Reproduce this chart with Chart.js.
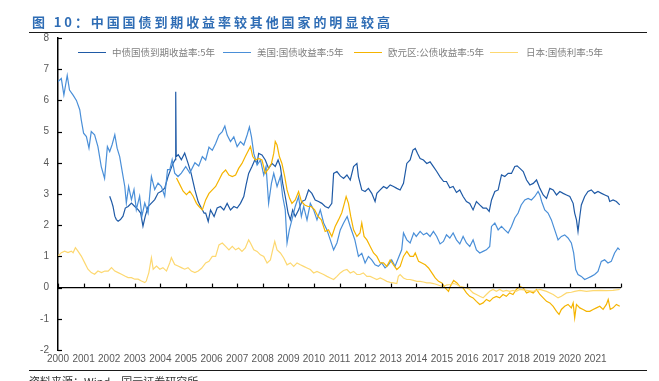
<!DOCTYPE html>
<html>
<head>
<meta charset="utf-8">
<script src="https://cdn.jsdelivr.net/npm/chart.js@4/dist/chart.umd.min.js"></script>
<style>
  html, body { margin: 0; padding: 0; background: #fff; }
  body { width: 659px; height: 381px; position: relative; overflow: hidden; }
  #c { position: absolute; left: 0; top: 0; }
  .title { position: absolute; left: 32px; top: 12px; font: bold 13px "Noto Sans CJK SC", sans-serif; color: #2f6db5; letter-spacing: 2.9px; white-space: nowrap; }
  .rule { position: absolute; left: 29px; width: 618px; height: 0; border-top: 1.6px solid #1a1a1a; }
  .src { position: absolute; left: 29px; top: 373px; font: 11px "Noto Sans CJK SC", sans-serif; color: #333; white-space: nowrap; }
  .lg-line { position: absolute; top: 52px; width: 28px; height: 0; border-top: 1.6px solid; }
  .lg-text { position: absolute; top: 45px; font: 9.5px "Noto Sans CJK SC", sans-serif; color: #808080; white-space: nowrap; }
</style>
</head>
<body>
<canvas id="c" width="659" height="381"></canvas>
<div class="title">图 10：中国国债到期收益率较其他国家的明显较高</div>
<div class="rule" style="top:32px"></div>
<div class="rule" style="top:370px"></div>
<div class="src">资料来源：Wind，国元证券研究所</div>
<div id="legend"></div>
<script>
// ---- data (x = year as decimal, y = yield %) ----
const seriesNames = ['中债国债到期收益率:5年', '美国:国债收益率:5年', '欧元区:公债收益率:5年', '日本:国债利率:5年'];
const seriesColors = ['#1f5aa6', '#4a8fd8', '#f5b400', '#fdd870'];
const yearTicks = [2000,2001,2002,2003,2004,2005,2006,2007,2008,2009,2010,2011,2012,2013,2014,2015,2016,2017,2018,2019,2020,2021];

const chinaX = [2002.02,2002.09,2002.15,2002.22,2002.28,2002.35,2002.44,2002.54,2002.63,2002.74,2002.87,2003.0,2003.13,2003.23,2003.32,2003.41,2003.52,2003.65,2003.78,2003.91,2004.04,2004.17,2004.3,2004.4,2004.5,2004.58,2004.6,2004.62,2004.7,2004.82,2004.95,2005.08,2005.2,2005.35,2005.48,2005.6,2005.71,2005.77,2005.87,2005.96,2006.1,2006.22,2006.35,2006.48,2006.61,2006.74,2006.87,2007.0,2007.13,2007.26,2007.35,2007.45,2007.58,2007.69,2007.78,2007.84,2007.97,2008.1,2008.23,2008.36,2008.49,2008.6,2008.69,2008.78,2008.88,2008.99,2009.08,2009.17,2009.27,2009.4,2009.53,2009.66,2009.79,2009.92,2010.05,2010.18,2010.31,2010.44,2010.57,2010.7,2010.77,2010.9,2011.03,2011.16,2011.29,2011.42,2011.55,2011.68,2011.74,2011.87,2012.0,2012.13,2012.26,2012.39,2012.46,2012.59,2012.72,2012.85,2012.98,2013.11,2013.24,2013.37,2013.5,2013.63,2013.76,2013.87,2013.96,2014.05,2014.15,2014.28,2014.41,2014.54,2014.67,2014.8,2014.93,2015.07,2015.18,2015.31,2015.44,2015.57,2015.7,2015.83,2015.96,2016.09,2016.22,2016.35,2016.48,2016.61,2016.74,2016.85,2016.94,2017.07,2017.2,2017.33,2017.46,2017.59,2017.72,2017.85,2017.94,2018.05,2018.18,2018.31,2018.44,2018.57,2018.7,2018.83,2018.96,2019.09,2019.22,2019.35,2019.48,2019.61,2019.74,2019.87,2020.0,2020.13,2020.19,2020.26,2020.32,2020.39,2020.45,2020.58,2020.71,2020.84,2020.97,2021.1,2021.24,2021.37,2021.5,2021.56,2021.69,2021.82,2021.95];
const chinaY = [2.93,2.77,2.6,2.29,2.18,2.13,2.18,2.29,2.55,2.6,2.71,2.6,2.5,2.39,1.97,2.29,2.6,2.71,2.82,3.03,3.09,3.19,3.56,3.78,3.99,4.1,6.28,4.2,4.26,4.1,4.31,3.99,3.67,3.13,2.75,2.55,2.39,2.39,2.12,2.49,2.28,2.55,2.6,2.49,2.7,2.49,2.6,2.55,2.7,2.92,3.29,3.66,3.88,4.09,3.98,4.3,4.25,4.09,3.82,3.98,3.88,4.09,3.88,3.34,2.92,2.39,2.17,2.49,2.28,2.49,2.76,2.81,3.13,3.02,2.81,2.76,2.7,2.6,2.55,2.7,3.66,3.72,3.58,3.5,3.61,3.45,3.88,3.98,3.56,3.13,3.08,3.18,3.02,2.76,3.02,3.13,3.24,3.18,3.29,3.24,3.18,3.13,3.34,3.98,4.09,4.41,4.46,4.3,4.14,4.09,3.98,4.03,3.88,3.72,3.55,3.4,3.4,3.2,3.24,3.05,3.13,2.92,2.76,2.7,2.49,2.76,2.65,2.55,2.55,2.44,2.81,3.08,3.13,3.61,3.56,3.66,3.66,3.88,3.9,3.82,3.72,3.45,3.29,3.34,3.45,3.18,2.97,2.86,3.18,3.13,2.97,3.08,3.02,2.97,2.92,2.7,2.39,2.17,1.8,2.28,2.65,2.92,3.08,3.13,3.02,3.08,3.02,2.97,2.92,2.76,2.81,2.76,2.65];

const usX = [2000.0,2000.13,2000.23,2000.36,2000.45,2000.59,2000.72,2000.85,2000.91,2001.0,2001.11,2001.21,2001.3,2001.43,2001.56,2001.69,2001.82,2001.93,2002.02,2002.11,2002.22,2002.31,2002.41,2002.52,2002.61,2002.67,2002.76,2002.87,2002.97,2003.06,2003.19,2003.28,2003.39,2003.52,2003.65,2003.78,2003.91,2004.04,2004.17,2004.28,2004.37,2004.46,2004.56,2004.69,2004.82,2004.99,2005.15,2005.35,2005.5,2005.64,2005.77,2005.9,2006.03,2006.16,2006.29,2006.42,2006.52,2006.61,2006.74,2006.87,2007.0,2007.13,2007.26,2007.39,2007.48,2007.56,2007.65,2007.78,2007.91,2008.04,2008.13,2008.23,2008.34,2008.43,2008.56,2008.69,2008.78,2008.88,2008.95,2009.04,2009.14,2009.27,2009.4,2009.51,2009.6,2009.73,2009.86,2009.99,2010.12,2010.25,2010.38,2010.51,2010.64,2010.77,2010.9,2011.03,2011.16,2011.3,2011.42,2011.6,2011.74,2011.87,2012.0,2012.13,2012.26,2012.39,2012.52,2012.65,2012.78,2012.91,2013.04,2013.17,2013.3,2013.43,2013.5,2013.63,2013.76,2013.9,2014.0,2014.15,2014.28,2014.41,2014.54,2014.67,2014.8,2014.93,2015.06,2015.18,2015.31,2015.44,2015.57,2015.7,2015.83,2015.96,2016.09,2016.22,2016.35,2016.48,2016.61,2016.74,2016.87,2016.94,2017.07,2017.2,2017.33,2017.46,2017.59,2017.72,2017.85,2017.98,2018.1,2018.24,2018.37,2018.5,2018.63,2018.76,2018.83,2018.9,2019.02,2019.15,2019.28,2019.41,2019.54,2019.67,2019.8,2019.93,2020.06,2020.15,2020.23,2020.32,2020.45,2020.58,2020.71,2020.84,2020.97,2021.1,2021.23,2021.36,2021.49,2021.62,2021.75,2021.88,2021.95];
const usY = [6.6,6.7,6.17,6.8,6.33,6.17,6.0,5.7,5.37,4.95,4.84,4.47,5.0,4.9,4.52,3.88,3.5,4.52,4.36,4.57,4.9,4.47,4.2,3.67,3.24,2.71,3.24,2.82,3.14,2.5,2.93,2.29,2.71,2.39,3.56,3.14,3.35,3.24,2.93,3.78,3.78,4.1,3.67,3.56,3.67,3.88,3.67,4.0,3.9,4.2,4.09,4.5,4.4,4.62,4.89,5.0,5.18,4.89,4.68,4.83,4.52,4.68,4.57,4.89,5.15,4.83,4.3,3.93,4.09,3.61,3.88,2.7,3.34,3.66,3.24,3.56,2.92,2.49,1.43,1.85,2.17,2.6,2.92,2.28,2.6,2.17,2.7,2.49,2.17,2.49,2.07,1.85,1.53,1.21,1.43,1.85,2.07,2.28,1.96,1.53,1.0,1.1,0.79,1.0,0.89,0.73,0.68,0.79,0.63,0.73,0.89,0.68,0.95,1.21,1.75,1.53,1.43,1.75,1.64,1.8,1.69,1.75,1.64,1.8,1.64,1.4,1.48,1.69,1.59,1.75,1.53,1.4,1.64,1.43,1.32,1.53,1.21,1.11,1.16,1.21,1.32,1.96,2.07,1.85,1.96,1.85,1.75,1.96,2.23,2.39,2.65,2.81,2.86,2.81,2.92,3.08,2.97,2.76,2.49,2.39,2.17,1.85,1.53,1.64,1.69,1.59,1.43,1.11,0.58,0.42,0.36,0.26,0.31,0.36,0.42,0.52,0.84,0.89,0.79,0.84,1.11,1.27,1.21];

const euroX = [2004.63,2004.76,2004.89,2005.02,2005.15,2005.28,2005.41,2005.51,2005.64,2005.77,2005.9,2006.03,2006.16,2006.29,2006.42,2006.55,2006.68,2006.81,2006.94,2007.06,2007.19,2007.32,2007.45,2007.52,2007.61,2007.71,2007.84,2007.97,2008.1,2008.23,2008.34,2008.43,2008.49,2008.56,2008.65,2008.75,2008.86,2008.95,2009.05,2009.14,2009.27,2009.4,2009.51,2009.64,2009.77,2009.9,2010.03,2010.16,2010.29,2010.44,2010.57,2010.7,2010.83,2010.96,2011.09,2011.19,2011.26,2011.35,2011.44,2011.55,2011.68,2011.8,2011.87,2011.96,2012.07,2012.2,2012.33,2012.46,2012.59,2012.72,2012.85,2012.98,2013.11,2013.24,2013.37,2013.5,2013.63,2013.76,2013.89,2013.96,2014.09,2014.22,2014.35,2014.48,2014.61,2014.74,2014.87,2015.0,2015.13,2015.26,2015.33,2015.46,2015.59,2015.7,2015.83,2015.96,2016.09,2016.22,2016.35,2016.48,2016.61,2016.74,2016.87,2017.0,2017.13,2017.26,2017.39,2017.52,2017.65,2017.78,2017.91,2018.05,2018.18,2018.31,2018.44,2018.57,2018.7,2018.83,2018.96,2019.09,2019.22,2019.35,2019.48,2019.58,2019.67,2019.8,2019.93,2020.06,2020.13,2020.19,2020.26,2020.39,2020.52,2020.65,2020.78,2020.91,2021.04,2021.17,2021.3,2021.43,2021.5,2021.58,2021.69,2021.82,2021.95];
const euroY = [3.51,3.3,3.09,2.98,3.09,2.93,2.7,2.6,2.49,2.81,3.02,3.13,3.24,3.45,3.66,3.77,3.61,3.56,3.61,3.82,3.98,4.2,4.41,4.52,4.2,4.09,4.14,4.09,3.66,3.82,3.98,4.3,4.68,4.57,4.2,3.98,3.56,3.13,2.86,2.7,2.81,3.08,2.76,2.65,2.6,2.6,2.49,2.28,2.17,1.8,1.85,1.64,1.96,2.17,2.4,2.7,2.92,2.7,2.28,1.85,1.64,1.75,2.07,1.64,1.53,1.32,1.11,1.0,0.79,0.79,0.68,0.89,0.73,0.58,0.68,1.0,1.16,1.0,1.0,1.11,0.84,0.79,0.73,0.63,0.47,0.31,0.2,0.15,-0.01,-0.12,0.04,0.23,0.15,0.04,-0.01,-0.17,-0.28,-0.33,-0.44,-0.54,-0.49,-0.38,-0.44,-0.33,-0.28,-0.33,-0.22,-0.28,-0.17,-0.22,-0.06,0.04,-0.01,-0.17,-0.12,-0.17,-0.06,-0.22,-0.33,-0.44,-0.49,-0.6,-0.76,-0.86,-0.7,-0.6,-0.54,-0.65,-0.49,-0.97,-0.54,-0.65,-0.7,-0.76,-0.76,-0.7,-0.65,-0.6,-0.7,-0.54,-0.38,-0.7,-0.65,-0.54,-0.6];

const japanX = [2000.0,2000.13,2000.26,2000.39,2000.52,2000.59,2000.68,2000.78,2000.91,2001.04,2001.17,2001.3,2001.43,2001.56,2001.7,2001.83,2001.96,2002.09,2002.22,2002.35,2002.48,2002.61,2002.74,2002.87,2003.0,2003.13,2003.26,2003.39,2003.45,2003.55,2003.65,2003.72,2003.85,2003.98,2004.1,2004.24,2004.37,2004.43,2004.56,2004.69,2004.82,2004.95,2005.08,2005.21,2005.35,2005.48,2005.61,2005.77,2005.9,2006.03,2006.16,2006.29,2006.42,2006.55,2006.68,2006.81,2006.94,2007.06,2007.19,2007.32,2007.45,2007.52,2007.65,2007.78,2007.91,2008.04,2008.17,2008.3,2008.39,2008.47,2008.56,2008.69,2008.82,2008.95,2009.08,2009.21,2009.34,2009.47,2009.6,2009.73,2009.86,2009.99,2010.12,2010.25,2010.38,2010.51,2010.64,2010.77,2010.9,2011.03,2011.16,2011.29,2011.42,2011.55,2011.68,2011.8,2011.93,2012.07,2012.2,2012.33,2012.46,2012.59,2012.72,2012.85,2012.98,2013.11,2013.24,2013.3,2013.37,2013.5,2013.63,2013.76,2013.89,2014.02,2014.15,2014.28,2014.41,2014.54,2014.67,2014.8,2014.93,2015.07,2015.2,2015.33,2015.46,2015.59,2015.7,2015.96,2016.09,2016.22,2016.35,2016.48,2016.61,2016.74,2016.87,2017.0,2017.13,2017.26,2017.39,2017.52,2017.65,2017.78,2017.9,2018.05,2018.31,2018.57,2018.83,2019.09,2019.35,2019.54,2019.67,2019.87,2020.06,2020.19,2020.39,2020.65,2020.91,2021.17,2021.43,2021.69,2021.95];
const japanY = [1.01,1.12,1.17,1.12,1.17,1.12,1.28,1.17,1.01,0.8,0.59,0.48,0.43,0.53,0.48,0.53,0.53,0.64,0.53,0.48,0.43,0.37,0.32,0.32,0.27,0.27,0.21,0.16,0.21,0.48,0.96,0.59,0.69,0.59,0.64,0.53,0.8,0.96,0.74,0.69,0.64,0.59,0.64,0.53,0.48,0.53,0.62,0.79,0.84,1.0,1.0,1.37,1.43,1.32,1.21,1.32,1.21,1.27,1.16,1.27,1.53,1.43,1.21,1.16,1.05,1.0,0.79,0.89,1.21,1.48,1.21,1.11,0.95,0.73,0.79,0.68,0.79,0.73,0.68,0.63,0.58,0.47,0.52,0.47,0.42,0.36,0.31,0.26,0.36,0.47,0.55,0.58,0.47,0.52,0.42,0.42,0.47,0.36,0.36,0.31,0.26,0.31,0.26,0.2,0.17,0.15,0.13,0.36,0.42,0.31,0.26,0.26,0.23,0.2,0.2,0.18,0.15,0.15,0.13,0.1,0.06,0.04,0.09,0.1,0.13,0.1,0.04,-0.01,-0.06,-0.17,-0.22,-0.28,-0.33,-0.22,-0.12,-0.06,-0.12,-0.06,-0.12,-0.09,-0.12,-0.09,-0.12,-0.06,-0.09,-0.12,-0.06,-0.12,-0.22,-0.33,-0.28,-0.17,-0.15,-0.12,-0.09,-0.12,-0.1,-0.09,-0.1,-0.09,-0.06];

// ---- legend (HTML text) ----
const legendLineX = [78, 223, 354, 490];
const legendTextX = [112, 257, 388, 526];
const lg = document.getElementById('legend');
seriesNames.forEach((n, i) => {
  const l = document.createElement('div');
  l.className = 'lg-line';
  l.style.left = legendLineX[i] + 'px';
  l.style.borderTopColor = seriesColors[i];
  lg.appendChild(l);
  const t = document.createElement('div');
  t.className = 'lg-text';
  t.style.left = legendTextX[i] + 'px';
  t.textContent = n;
  lg.appendChild(t);
});

const pts = (xs, ys) => xs.map((x, i) => ({ x: x, y: ys[i] }));
const allX = [chinaX, usX, euroX, japanX];
const allY = [chinaY, usY, euroY, japanY];

// inward tick marks drawn from the library scales
const innerTicks = {
  id: 'innerTicks',
  afterDatasetsDraw(chart) {
    const { ctx, scales: { x, y } } = chart;
    ctx.save();
    ctx.strokeStyle = '#000';
    ctx.lineWidth = 1.2;
    const left = chart.chartArea.left;
    y.ticks.forEach(t => {
      const py = Math.round(y.getPixelForValue(t.value)) + 0.5;
      ctx.beginPath(); ctx.moveTo(left, py); ctx.lineTo(left + 4, py); ctx.stroke();
    });
    const y0 = y.getPixelForValue(0);
    ctx.beginPath(); ctx.moveTo(left, y0); ctx.lineTo(chart.chartArea.right, y0); ctx.stroke();
    yearTicks.concat([2022]).forEach(v => {
      const px = Math.round(x.getPixelForValue(v)) + 0.5;
      ctx.beginPath(); ctx.moveTo(px, y0); ctx.lineTo(px, y0 - 4); ctx.stroke();
    });
    ctx.restore();
  }
};

new Chart(document.getElementById('c'), {
  type: 'line',
  data: {
    datasets: seriesNames.map((n, i) => ({
      label: n,
      data: pts(allX[i], allY[i]),
      borderColor: seriesColors[i],
      backgroundColor: seriesColors[i],
      borderWidth: 1.2,
      pointRadius: 0,
      tension: 0,
      order: 4 - i
    }))
  },
  options: {
    responsive: false,
    animation: false,
    devicePixelRatio: 1,
    layout: { padding: { top: 38, right: 38, bottom: 16, left: 0 } },
    plugins: { legend: { display: false }, tooltip: { enabled: false }, title: { display: false } },
    scales: {
      x: {
        type: 'linear', min: 2000, max: 2022,
        afterBuildTicks: s => { s.ticks = yearTicks.map(v => ({ value: v })); },
        afterFit: s => { s.height = 15; },
        grid: { display: false, drawTicks: false },
        border: { display: false },
        ticks: {
          autoSkip: false, maxRotation: 0, padding: 3,
          color: '#595959', font: { family: '"Liberation Sans", Arial, sans-serif', size: 10 },
          callback: v => String(v)
        }
      },
      y: {
        min: -2, max: 8,
        afterFit: s => { s.width = 58; },
        grid: { drawTicks: false, color: 'rgba(0,0,0,0)' },
        border: { display: true, color: '#000', width: 1.5 },
        ticks: {
          stepSize: 1, padding: 9,
          color: '#595959', font: { family: '"Liberation Sans", Arial, sans-serif', size: 10 }
        }
      }
    }
  },
  plugins: [innerTicks]
});
</script>
</body>
</html>
